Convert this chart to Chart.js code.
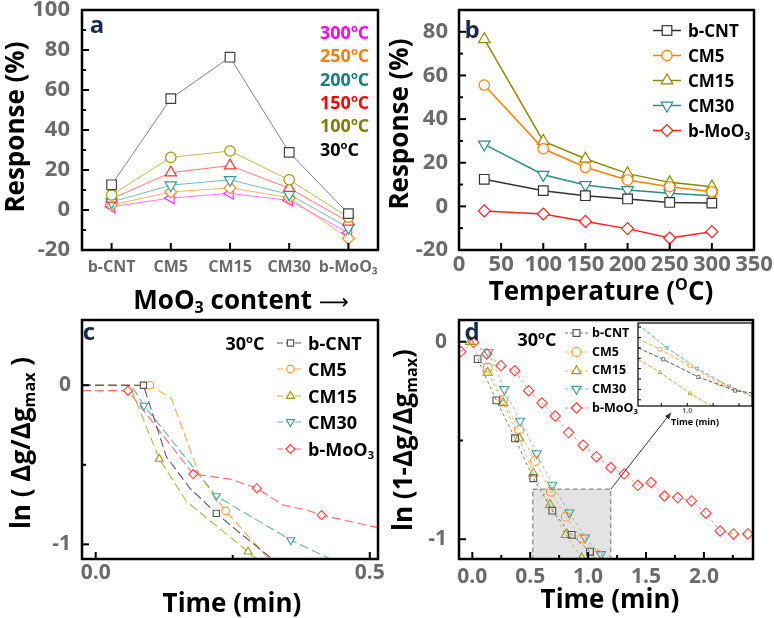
<!DOCTYPE html>
<html>
<head>
<meta charset="utf-8">
<script src="https://cdn.jsdelivr.net/npm/chart.js@4.4.1/dist/chart.umd.min.js"></script>
<style>
  body { margin:0; width:774px; height:618px; position:relative; overflow:hidden; background:#fff; font-family:'Open Sans', sans-serif; }
  canvas { position:absolute; left:0; top:0; }
  .lab { position:absolute; white-space:nowrap; font-weight:700; line-height:1; color:#000; }
  .leg { position:absolute; display:flex; align-items:center; transform:translateY(-50%); font-weight:700; white-space:nowrap; line-height:1; color:#000; }
  .leg svg { display:block; flex:none; }
  sub { font-size:0.62em; vertical-align:-0.3em; line-height:0; }
  sup { font-size:0.62em; vertical-align:0.6em; line-height:0; }
</style>
</head>
<body>
<canvas id="chartA" width="774" height="618"></canvas>
<canvas id="chartB" width="774" height="618"></canvas>
<canvas id="chartC" width="774" height="618"></canvas>
<canvas id="chartD" width="774" height="618"></canvas>
<canvas id="chartInset" width="774" height="618"></canvas>
<script>

/* panel a : response vs MoO3 content */
const contentCats = ['b-CNT', 'CM5', 'CM15', 'CM30', 'b-MoO₃'];
const tempNamesA = ['300', '250', '200', '150', '100', '30'];
const resp300 = [1.6, 6.0, 8.3, 4.8, -11.4];
const resp250 = [2.5, 9.0, 11.1, 6.2, -14.2];
const resp200 = [4.0, 12.4, 15.1, 7.8, -8.8];
const resp150 = [5.6, 18.7, 22.2, 10.9, -5.9];
const resp100 = [7.5, 26.3, 29.5, 15.1, -3.6];
const resp30  = [12.6, 55.7, 76.4, 28.8, -1.8];

/* panel b : response vs temperature */
const sampleNames = ['b-CNT', 'CM5', 'CM15', 'CM30', 'b-MoO3'];
const tempsB = [30, 100, 150, 200, 250, 300];
const respCNT  = [12.4, 7.2, 4.9, 3.4, 1.8, 1.5];
const respCM5  = [55.6, 26.4, 17.9, 12.1, 9.0, 6.7];
const respCM15 = [76.6, 29.9, 21.8, 15.0, 11.0, 9.0];
const respCM30 = [28.4, 14.5, 9.8, 7.5, 6.0, 4.9];
const respMoO3 = [-2.1, -3.5, -6.9, -10.2, -14.5, -11.6];

/* panel c : ln(dg/dgmax) vs time, [time, value] */
const cPathCNT  = [[-0.025, 0], [0.087, 0], [0.129, -0.45], [0.172, -0.648], [0.22, -0.805], [0.26, -0.92], [0.325, -1.1]];
const cMarkCNT  = [[0.087, 0], [0.22, -0.805]];
const cPathCM5  = [[-0.025, 0], [0.099, 0], [0.138, -0.082], [0.19, -0.57], [0.237, -0.79], [0.318, -1.1]];
const cMarkCM5  = [[0.099, 0], [0.237, -0.79]];
const cPathCM15 = [[-0.025, 0], [0.062, 0], [0.116, -0.463], [0.166, -0.732], [0.278, -1.046], [0.296, -1.1]];
const cMarkCM15 = [[0.116, -0.463], [0.278, -1.046]];
const cPathCM30 = [[-0.025, 0], [0.065, 0], [0.088, -0.128], [0.22, -0.696], [0.356, -0.973], [0.433, -1.1]];
const cMarkCM30 = [[0.088, -0.128], [0.22, -0.696], [0.356, -0.973]];
const cPathMoO3 = [[-0.025, -0.034], [0.059, -0.034], [0.178, -0.558], [0.245, -0.59], [0.294, -0.647], [0.342, -0.753], [0.384, -0.784], [0.412, -0.816], [0.515, -0.895]];
const cMarkMoO3 = [[0.059, -0.034], [0.178, -0.558], [0.294, -0.647], [0.412, -0.816]];

/* panel d : ln(1-dg/dgmax) vs time, [time, value] */
const dCNT  = [[0.046, -0.088], [0.208, -0.297], [0.369, -0.489], [0.527, -0.691], [0.691, -0.855], [0.858, -0.978], [1.016, -1.063]];
const dCM5  = [[0.133, -0.131], [0.267, -0.295], [0.404, -0.447], [0.541, -0.604], [0.677, -0.759], [0.807, -0.886], [0.945, -0.995], [1.079, -1.076]];
const dCM15 = [[-0.02, 0], [0.133, -0.156], [0.267, -0.31], [0.404, -0.489], [0.527, -0.666], [0.671, -0.826], [0.807, -0.978], [0.945, -1.096]];
const dCM30 = [[0.139, -0.054], [0.276, -0.24], [0.412, -0.401], [0.556, -0.565], [0.691, -0.725], [0.838, -0.865], [0.973, -0.992], [1.111, -1.076]];
const dMoO3 = [[-0.098, -0.05], [0.011, -0.003], [0.124, -0.062], [0.248, -0.121], [0.367, -0.147], [0.487, -0.248],
               [0.602, -0.31], [0.717, -0.376], [0.832, -0.46], [0.957, -0.524], [1.072, -0.582], [1.196, -0.637],
               [1.311, -0.669], [1.429, -0.727], [1.544, -0.713], [1.659, -0.781], [1.774, -0.789], [1.893, -0.806],
               [2.017, -0.868], [2.141, -0.958], [2.256, -0.973], [2.38, -0.973]];

/* inset of panel d */
const iCNT  = [[0.62, -0.70], [0.815, -0.755], [1.085, -0.84], [1.369, -0.906], [1.5, -0.917]];
const iCM5  = [[0.62, -0.655], [0.79, -0.707], [1.021, -0.786], [1.253, -0.871], [1.5, -0.927]];
const iCM15 = [[0.62, -0.755], [0.79, -0.818], [1.021, -0.919], [1.25, -1.004]];
const iCM30 = [[0.62, -0.585], [0.842, -0.699], [1.073, -0.798], [1.322, -0.884], [1.5, -0.935]];

/* tick values */
const aYMajor = [-20, 0, 20, 40, 60, 80, 100], aYMinor = [-10, 10, 30, 50, 70, 90];
const bXMajor = [0, 50, 100, 150, 200, 250, 300, 350];
const bYMajor = [-20, 0, 20, 40, 60, 80], bYMinor = [-10, 10, 30, 50, 70];
const cXMajor = [0, 0.5], cXMinor = [0.25];
const cYMajor = [-1, 0], cYMinor = [-0.5];
const dXMajor = [0, 0.5, 1, 1.5, 2], dXMinor = [0.25, 0.75, 1.25, 1.75, 2.25];
const dYMajor = [-1, 0], dYMinor = [-0.5];
const iXMajor = [1.0], iXMinor = [0.8, 1.2, 1.4];
const iYMinor = [-0.95, -0.9, -0.85, -0.8, -0.75, -0.7, -0.65, -0.6];

/* ------------------------------------------------------------ */

const W = 774, H = 618;
const tickGray = '#6b6b6b';

Chart.defaults.font.family = "'Open Sans', sans-serif";
Chart.defaults.animation = false;
Chart.defaults.responsive = false;
Chart.defaults.devicePixelRatio = 1;
Chart.defaults.events = [];
Chart.defaults.plugins.legend.display = false;
Chart.defaults.plugins.tooltip.enabled = false;

const sampleColors = ['#333333', '#ff8000', '#8a8a00', '#2e8b8b', '#ff2020'];
const sampleMarkC  = ['#555555', '#ff9933', '#9a9a20', '#4a9a9a', '#ff3b3b'];
const sampleLineC  = ['rgba(70,70,70,0.9)', 'rgba(255,150,50,0.85)', 'rgba(165,165,50,0.85)', 'rgba(85,160,160,0.85)', 'rgba(255,85,85,0.85)'];
const sampleShapes = ['rect', 'circle', 'triangle', 'triangle', 'rectRot'];
const sampleRot    = [0, 0, 0, 180, 0];

function pts(arr){
   return arr.map(p => ({x: p[0], y: p[1]}));
}

function tickList(major, minor){
   return major.map(v => ({value: v, big: true}))
      .concat(minor.map(v => ({value: v, big: false})))
      .sort((p, q) => p.value - q.value);
}

function axis(o){
   let ax = {
      type: o.type || 'linear',
      offset: !!o.offset,
      grid: {display: false, drawTicks: false},
      border: {display: false},
      ticks: {
         autoSkip: false, maxRotation: 0, minRotation: 0,
         padding: o.pad, color: tickGray,
         font: {size: o.size, weight: 'bold'}
      },
      afterFit: function(s){
         if (s.isHorizontal()) s.height = o.fix; else s.width = o.fix;
         s.paddingLeft = s.paddingRight = s.paddingTop = s.paddingBottom = 0;
      }
   };
   if (ax.type === 'linear'){
      ax.min = o.min;
      ax.max = o.max;
      ax.afterBuildTicks = function(s){ s.ticks = tickList(o.major, o.minor || []); };
      ax.ticks.callback = function(v, i, t){ return t[i].big ? o.fmt(v) : ''; };
   }
   return ax;
}

/* frame box with inward ticks */
const frameTicks = {
   id: 'frameTicks',
   afterDraw(chart, args, o){
      const ctx = chart.ctx, a = chart.chartArea;
      ctx.save();
      ctx.strokeStyle = '#000';
      ctx.lineWidth = o.tickW;
      ['x', 'y'].forEach(function(id){
         const s = chart.scales[id];
         s.ticks.forEach(function(t, i){
            const big = s.type === 'category' || t.big;
            const len = big ? o.major : o.minor;
            const p = s.getPixelForTick(i);
            ctx.beginPath();
            if (id === 'x'){ ctx.moveTo(p, a.bottom); ctx.lineTo(p, a.bottom - len); }
            else { ctx.moveTo(a.left, p); ctx.lineTo(a.left + len, p); }
            ctx.stroke();
         });
      });
      ctx.lineWidth = o.frameW;
      ctx.strokeRect(a.left, a.top, a.right - a.left, a.bottom - a.top);
      ctx.restore();
   }
};

/* shaded zoom region and arrow in panel d */
const zoomBox = {
   id: 'zoomBox',
   beforeDatasetsDraw(chart){
      const ctx = chart.ctx, x = chart.scales.x, y = chart.scales.y, a = chart.chartArea;
      const x0 = x.getPixelForValue(0.522), x1 = x.getPixelForValue(1.195), y0 = y.getPixelForValue(-0.747);
      ctx.save();
      ctx.fillStyle = '#e3e3e3';
      ctx.fillRect(x0, y0, x1 - x0, a.bottom - y0);
      ctx.setLineDash([5, 3]);
      ctx.strokeStyle = '#9a9a9a';
      ctx.lineWidth = 1.5;
      ctx.strokeRect(x0, y0, x1 - x0, a.bottom - y0);
      ctx.restore();
   },
   afterDatasetsDraw(chart){
      const ctx = chart.ctx, x = chart.scales.x, y = chart.scales.y;
      const sx = x.getPixelForValue(1.195), sy = y.getPixelForValue(-0.747);
      const ex = x.getPixelForValue(1.716), ey = y.getPixelForValue(-0.359);
      const ang = Math.atan2(ey - sy, ex - sx);
      ctx.save();
      ctx.strokeStyle = '#333';
      ctx.fillStyle = '#333';
      ctx.lineWidth = 1;
      ctx.beginPath(); ctx.moveTo(sx, sy); ctx.lineTo(ex, ey); ctx.stroke();
      ctx.beginPath();
      ctx.moveTo(ex, ey);
      ctx.lineTo(ex - 7 * Math.cos(ang - 0.4), ey - 7 * Math.sin(ang - 0.4));
      ctx.lineTo(ex - 7 * Math.cos(ang + 0.4), ey - 7 * Math.sin(ang + 0.4));
      ctx.closePath(); ctx.fill();
      ctx.restore();
   }
};

const insetBg = {
   id: 'insetBg',
   beforeDraw(chart){
      const a = chart.chartArea, ctx = chart.ctx;
      ctx.save();
      ctx.fillStyle = '#fff';
      ctx.fillRect(a.left, a.top, a.right - a.left, a.bottom - a.top);
      ctx.restore();
   }
};

function build(id, type, area, yw, xh, data, scales, tickOpt, extra){
   return new Chart(document.getElementById(id), {
      type: type,
      data: data,
      options: {
         layout: {padding: {left: area[0] - yw, top: area[1], right: W - area[2], bottom: H - area[3] - xh}},
         scales: scales,
         plugins: {frameTicks: tickOpt}
      },
      plugins: [frameTicks].concat(extra || [])
   });
}

const bigTicks = {tickW: 2, major: 7, minor: 4, frameW: 2.5};

/* ---------------- panel a ---------------- */
const aSeries = [resp300, resp250, resp200, resp150, resp100, resp30];
const aColors = ['#ff33ff', '#ff8c1a', '#339999', '#ff3333', '#999900', '#444444'];
const aStyles = [['triangle', -90, 6.5], ['rectRot', 0, 6], ['triangle', 180, 6.5], ['triangle', 0, 6.5], ['circle', 0, 5.2], ['rect', 0, 6.8]];

build('chartA', 'line', [82, 10, 378, 250], 70, 40, {
   labels: contentCats,
   datasets: aSeries.map(function(d, i){
      return {
         data: d,
         borderColor: aColors[i] + 'aa',
         borderWidth: 1,
         pointStyle: aStyles[i][0],
         pointRotation: aStyles[i][1],
         pointRadius: aStyles[i][2],
         pointBorderColor: aColors[i],
         pointBackgroundColor: '#fff',
         pointBorderWidth: 1.2
      };
   }).reverse()
}, {
   x: axis({type: 'category', offset: true, pad: 8, size: 16, fix: 40}),
   y: axis({min: -20, max: 100, major: aYMajor, minor: aYMinor, fmt: v => String(v), pad: 12, size: 22, fix: 70})
}, bigTicks);

/* ---------------- panel b ---------------- */
const bSeries = [respCNT, respCM5, respCM15, respCM30, respMoO3];
const bigR = {rect: 6.8, circle: 5.2, triangle: 6.6, rectRot: 6};

build('chartB', 'scatter', [459, 10, 754, 250], 70, 40, {
   datasets: bSeries.map(function(d, i){
      return {
         data: tempsB.map((t, k) => ({x: t, y: d[k]})),
         showLine: true,
         borderColor: sampleColors[i],
         borderWidth: 1.5,
         pointStyle: sampleShapes[i],
         pointRotation: sampleRot[i],
         pointRadius: bigR[sampleShapes[i]],
         pointBorderColor: sampleColors[i],
         pointBackgroundColor: '#fff',
         pointBorderWidth: 1.2
      };
   })
}, {
   x: axis({min: 0, max: 350, major: bXMajor, fmt: v => String(v), pad: 2, size: 22, fix: 40}),
   y: axis({min: -20, max: 90, major: bYMajor, minor: bYMinor, fmt: v => String(v), pad: 11, size: 22, fix: 70})
}, bigTicks);

/* ---------------- panel c ---------------- */
const cPaths = [cPathCNT, cPathCM5, cPathCM15, cPathCM30, cPathMoO3];
const cMarks = [cMarkCNT, cMarkCM5, cMarkCM15, cMarkCM30, cMarkMoO3];
const smallR = {rect: 4.4, circle: 3.8, triangle: 4.6, rectRot: 4.5};
const cSets = [];
cPaths.forEach(function(p, i){
   cSets.push({
      data: pts(cMarks[i]), showLine: false, clip: 0,
      pointStyle: sampleShapes[i], pointRotation: sampleRot[i], pointRadius: smallR[sampleShapes[i]],
      pointBorderColor: sampleMarkC[i], pointBackgroundColor: '#fff', pointBorderWidth: 1.1
   });
   cSets.push({
      data: pts(p), showLine: true, clip: 0, pointRadius: 0,
      borderColor: sampleLineC[i], borderWidth: 1.1, borderDash: [9, 4]
   });
});

build('chartC', 'scatter', [82, 320, 378, 559], 70, 40, {datasets: cSets}, {
   x: axis({min: -0.025, max: 0.515, major: cXMajor, minor: cXMinor, fmt: v => v.toFixed(1), pad: 1, size: 21, fix: 40}),
   y: axis({min: -1.092, max: 0.41, major: cYMajor, minor: cYMinor, fmt: v => String(Math.round(v)), pad: 11, size: 21, fix: 70})
}, bigTicks);

/* ---------------- panel d ---------------- */
const dSeries = [dCNT, dCM5, dCM15, dCM30, dMoO3];
const dR = {rect: 4.8, circle: 4.5, triangle: 5.3, rectRot: 5.2};

build('chartD', 'scatter', [459, 320, 753, 559], 70, 40, {
   datasets: dSeries.map(function(d, i){
      return {
         data: pts(d), showLine: true, clip: 0,
         borderColor: sampleLineC[i], borderWidth: 0.8, borderDash: [3, 3],
         pointStyle: sampleShapes[i], pointRotation: sampleRot[i], pointRadius: dR[sampleShapes[i]],
         pointBorderColor: sampleMarkC[i], pointBackgroundColor: 'rgba(255,255,255,0)', pointBorderWidth: 1.1
      };
   })
}, {
   x: axis({min: -0.115, max: 2.424, major: dXMajor, minor: dXMinor, fmt: v => v.toFixed(1), pad: 5, size: 21, fix: 40}),
   y: axis({min: -1.1, max: 0.11, major: dYMajor, minor: dYMinor, fmt: v => String(Math.round(v)), pad: 12, size: 21, fix: 70})
}, bigTicks, [zoomBox]);

/* ---------------- inset ---------------- */
const iSeries = [iCNT, iCM5, iCM15, iCM30];

build('chartInset', 'scatter', [638, 323, 752, 406], 2, 12, {
   datasets: iSeries.map(function(d, i){
      return {
         data: pts(d), showLine: true, clip: 0,
         borderColor: sampleLineC[i], borderWidth: 1, borderDash: [4, 2],
         pointStyle: sampleShapes[i], pointRotation: sampleRot[i],
         pointRadius: ctx => (ctx.dataIndex === 0 || ctx.dataIndex === d.length - 1) ? 0 : 2.2,
         pointBorderColor: sampleMarkC[i], pointBackgroundColor: '#fff', pointBorderWidth: 0.8
      };
   })
}, {
   x: axis({min: 0.62, max: 1.5, major: iXMajor, minor: iXMinor, fmt: v => v.toFixed(1), pad: 1, size: 7, fix: 12}),
   y: axis({min: -0.98, max: -0.58, major: [], minor: iYMinor, fmt: v => '', pad: 0, size: 7, fix: 2})
}, {tickW: 1, major: 3, minor: 3, frameW: 1.2}, [insetBg]);

/* ---------------- text: titles, letters, legends ---------------- */
function text(html, x, y, size, o){
   o = o || {};
   let d = document.createElement('div');
   d.className = 'lab';
   d.innerHTML = html;
   d.style.left = x + 'px';
   d.style.top = y + 'px';
   d.style.fontSize = size + 'px';
   if (o.color) d.style.color = o.color;
   d.style.transform = 'translate(' + (o.left ? '0' : '-50%') + ',-50%)' + (o.rot ? ' rotate(-90deg)' : '');
   document.body.appendChild(d);
}

const rich = s => s.replace(/O3$/, 'O<sub>3</sub>');

function svgMark(shape, rot, r, cx, cy, color){
   const st = 'fill="#fff" stroke="' + color + '" stroke-width="1.2"';
   if (shape === 'circle') return '<circle cx="' + cx + '" cy="' + cy + '" r="' + r + '" ' + st + '/>';
   if (shape === 'rect'){
      const h = r * Math.SQRT1_2;
      return '<rect x="' + (cx - h) + '" y="' + (cy - h) + '" width="' + 2 * h + '" height="' + 2 * h + '" ' + st + '/>';
   }
   if (shape === 'rectRot')
      return '<polygon points="' + (cx - r) + ',' + cy + ' ' + cx + ',' + (cy - r) + ' ' + (cx + r) + ',' + cy + ' ' + cx + ',' + (cy + r) + '" ' + st + '/>';
   const p = [0, 120, 240].map(function(a){
      const t = (a + rot) * Math.PI / 180;
      return (cx + Math.sin(t) * r).toFixed(2) + ',' + (cy - Math.cos(t) * r).toFixed(2);
   });
   return '<polygon points="' + p.join(' ') + '" ' + st + '/>';
}

function legend(o){
   sampleNames.forEach(function(n, i){
      let row = document.createElement('div');
      row.className = 'leg';
      row.style.left = o.x + 'px';
      row.style.top = (o.y + i * o.gap) + 'px';
      row.style.fontSize = o.size + 'px';
      const h = 16, w = o.w;
      const dash = o.dash ? ' stroke-dasharray="' + o.dash + '"' : '';
      row.innerHTML =
         '<svg width="' + w + '" height="' + h + '"><line x1="0" y1="' + h / 2 + '" x2="' + w + '" y2="' + h / 2 +
         '" stroke="' + o.lineC[i] + '" stroke-width="' + o.lw + '"' + dash + '/>' +
         svgMark(sampleShapes[i], sampleRot[i], o.r[sampleShapes[i]], w / 2, h / 2, o.markC[i]) + '</svg>' +
         '<span style="margin-left:' + o.sep + 'px">' + rich(n) + '</span>';
      document.body.appendChild(row);
   });
}

/* panel letters */
const letterC = '#1a2b4c';
text('a', 97, 24, 24, {color: letterC});
text('b', 472, 29, 24, {color: letterC});
text('c', 89, 331, 24, {color: letterC});
text('d', 472, 331, 24, {color: letterC});

/* axis titles */
text('Response (%)', 14, 127, 26, {rot: true});
text('MoO<sub>3</sub> content <span style="font-family:DejaVu Sans;font-weight:400;font-size:0.8em">⟶</span>', 241, 299, 26);
text('Response (%)', 398, 124, 26, {rot: true});
text('Temperature (<sup>O</sup>C)', 601, 290, 26);
text('ln ( Δg/Δg<sub>max</sub> )', 20, 443, 26, {rot: true});
text('Time (min)', 232, 602, 26);
text('ln (1-Δg/Δg<sub>max</sub>)', 402, 440, 26, {rot: true});
text('Time (min)', 610, 598, 26);
text('Time (min)', 695, 421, 9);

/* panel a legend: coloured temperatures */
const aLegendC = ['#ff00ff', '#ff7f00', '#178080', '#ff0000', '#7f7f00', '#000000'];
tempNamesA.forEach(function(t, i){
   text(t + '<sup>o</sup>C', 320, 32 + i * 23.3, 18, {left: true, color: aLegendC[i]});
});

/* panel b legend */
legend({x: 653, y: 30, gap: 25, w: 28, sep: 7, size: 17, lw: 1.5, lineC: sampleColors, markC: sampleColors, r: bigR});

/* panel c legend */
text('30<sup>o</sup>C', 245, 343, 18);
legend({x: 277, y: 343, gap: 26.4, w: 27, sep: 4, size: 18, lw: 1, dash: '6,3', lineC: sampleLineC, markC: sampleMarkC, r: smallR});

/* panel d legend */
text('30<sup>o</sup>C', 537, 339, 18);
legend({x: 565, y: 333, gap: 18.8, w: 23, sep: 4, size: 12.5, lw: 0.8, dash: '3,2', lineC: sampleLineC, markC: sampleMarkC, r: dR});

</script>
</body>
</html>
